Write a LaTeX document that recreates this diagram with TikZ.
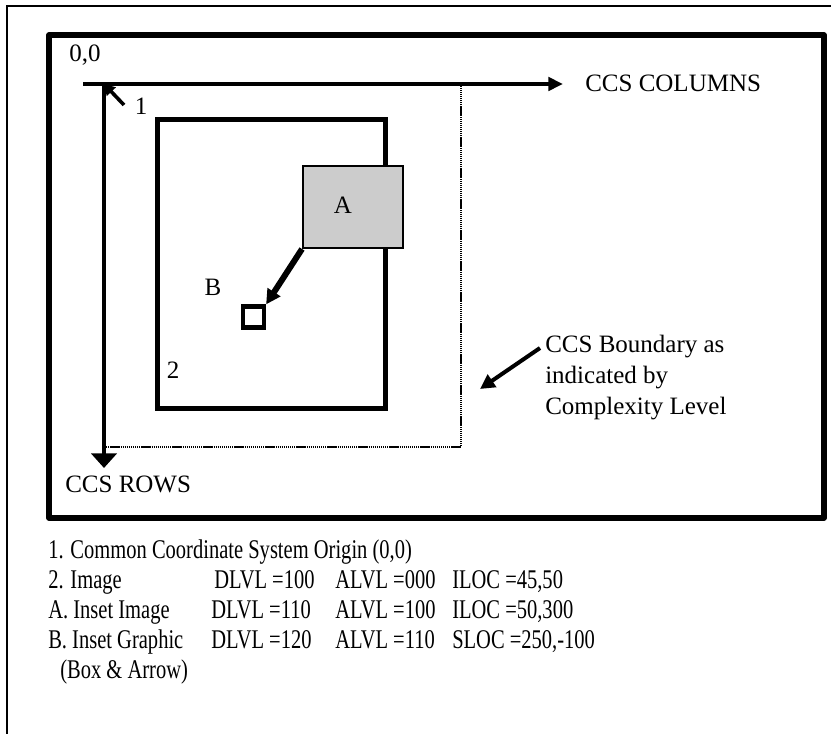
\documentclass[tikz,border=0pt]{standalone}
\usepackage{fontspec}
\setmainfont{Liberation Serif}
\newfontfamily\legendfont[FakeStretch=0.76]{Liberation Serif}
\usetikzlibrary{arrows.meta}
\begin{document}
\begin{tikzpicture}[x=0.75pt,y=-0.75pt,
  lbl/.style={inner sep=0pt, font=\fontsize{18.75pt}{23.25pt}\selectfont},
  leg/.style={inner sep=0pt, anchor=base west, font=\legendfont\fontsize{20.25pt}{22.5pt}\selectfont},
  heavybox/.style={draw, line width=4.1pt, line join=round},
  imgbox/.style={draw, line width=3.75pt},
  axisline/.style={line width=2.7pt},
  dotline/.style={line width=1.5pt, dash pattern=on 1pt off 0.55pt},
]
\useasboundingbox (0,0) rectangle (836,734);
% outer frame
\draw[line width=1.9pt] (7,734) -- (7,6) -- (831,6);
% heavy frame
\draw[heavybox] (49,35) rectangle (824,518);
% axes
\coordinate (O) at (104,84);
\coordinate (xs) at (83,84);
\coordinate (xe) at (563,84);
\coordinate (ye) at (104,468);
\draw[axisline, -{Triangle[length=11pt,width=10pt]}] (xs) -- (xe);
\draw[axisline, -{Triangle[length=11pt,width=19pt]}] (O) -- (ye);
% CCS boundary (dotted)
\coordinate (bc) at (461,447);
\draw[dotline] (O |- bc) -- (bc) -- (bc |- O);
% origin pointer 1
\coordinate (p1) at (124,105);
\draw[axisline, -{Triangle[length=8pt,width=9pt]}] (p1) -- (O);
% image box
\draw[imgbox] (157,120) rectangle (385,409);
% inset A
\node (A) [draw, fill=black!20, line width=1.5pt, minimum width=75pt, minimum height=61.5pt, anchor=north west, inner sep=0pt] at (302,165) {};
\node (labA) [lbl] at (343,205) {A};
% inset graphic B
\node (B) [draw, fill=white, line width=3.4pt, minimum size=15.5pt, inner sep=0pt] at (253.5,317) {};
\draw[line width=4.5pt, -{Triangle[length=11pt,width=11pt]}] (A.south west) -- (B.north east);
% labels
\node (l00) [lbl] at (85,55) {0,0};
\node (l1) [lbl] at (141,106) {1};
\node (lB) [lbl] at (213,287) {B};
\node (l2) [lbl] at (173,370) {2};
\node (lcol) [lbl, anchor=west] at (585,83) {CCS COLUMNS};
\node (lrow) [lbl, anchor=west] at (65,484) {CCS ROWS};
\node (bnd) [lbl, anchor=west, align=left] at (545,378) {CCS Boundary as\\indicated by\\Complexity Level};
\coordinate (bs) at (540,348);
\coordinate (be) at (480,389);
\draw[line width=3pt, -{Triangle[length=11pt,width=11pt]}] (bs) -- (be);
% legend
\node (t1) [leg] at (48,558) {1. Common Coordinate System Origin (0,0)};
\node (t2) [leg] at (48,588) {2. Image};
\node (t2d) [leg] at (214,588) {DLVL =100};
\node (t2a) [leg] at (335,588) {ALVL =000};
\node (t2i) [leg] at (452,588) {ILOC =45,50};
\node (t3) [leg] at (48,618) {A. Inset Image};
\node (t3d) [leg] at (211,618) {DLVL =110};
\node (t3a) [leg] at (335,618) {ALVL =100};
\node (t3i) [leg] at (452,618) {ILOC =50,300};
\node (t4) [leg] at (48,648) {B. Inset Graphic};
\node (t4d) [leg] at (211,648) {DLVL =120};
\node (t4a) [leg] at (335,648) {ALVL =110};
\node (t4i) [leg] at (452,648) {SLOC =250,-100};
\node (t5) [leg] at (60,678) {(Box \& Arrow)};
\end{tikzpicture}
\end{document}
